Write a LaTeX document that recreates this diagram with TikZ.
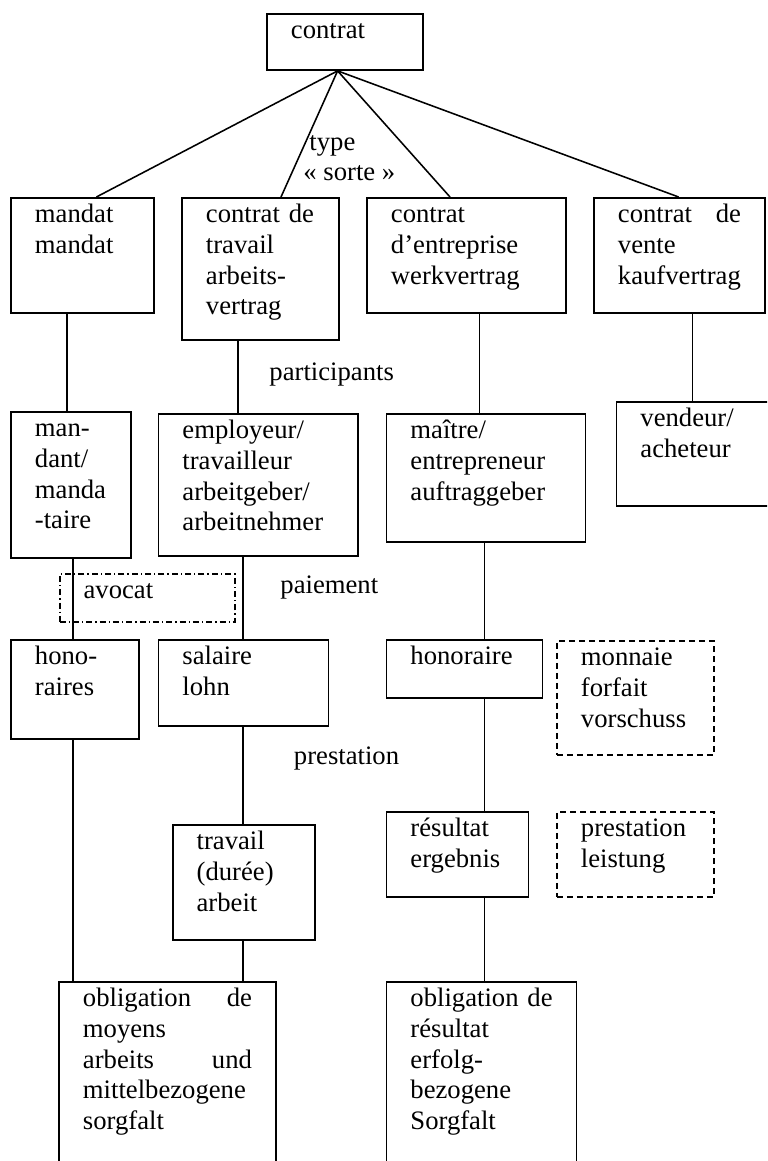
\documentclass[tikz,border=0pt]{standalone}
\usepackage{fontspec}
\setmainfont{Liberation Serif}

\tikzset{
	cbox/.style={draw, line width=0.85pt, anchor=north west, align=left,
		inner xsep=10.8pt, inner ysep=0pt, text height=11.25pt},
	dbox/.style={cbox, dash pattern=on 2.7pt off 1.8pt},
	dotbox/.style={cbox, dash pattern=on 2.7pt off 1.4pt on 0.5pt off 1.4pt},
	link/.style={line width=0.7pt},
	lbl/.style={anchor=base west, inner sep=0pt},
}

\begin{document}
\begin{tikzpicture}[x=0.45pt, y=-0.45pt, font=\fontsize{12}{13.8}\selectfont]
	\useasboundingbox (0,0) rectangle (767,1161);
	\clip (0,0) rectangle (767,1161);
	% root and contract types
	\node[cbox, text width=48.6pt, text depth=13.95pt] (ct) at (266,13) {contrat};
	\node[cbox, text width=42.75pt, text depth=40.5pt] (md) at (10,197) {mandat\\mandat};
	\node[cbox, text width=49.05pt, text depth=52.65pt] (tr) at (181,197) {contrat~de\\travail\\arbeits-\\vertrag};
	\node[cbox, text width=67.95pt, text depth=40.5pt] (en) at (366,197) {contrat\\d’entreprise\\werkvertrag};
	\node[cbox, text width=55.35pt, text depth=40.5pt] (ve) at (593,197) {contrat\hfill de\\vente\\kaufvertrag};
	% participants
	\node[cbox, text width=32.4pt, text depth=54.45pt] (mt) at (10,411) {man-\\dant/\\manda\\-taire};
	\node[cbox, text width=68.2pt, text depth=52.65pt] (em) at (157.5,413) {employeur/\\travailleur\\arbeitgeber/\\arbeitnehmer};
	\node[cbox, text width=67.95pt, text depth=46.35pt] (ma) at (385.5,413) {maître/\\entrepreneur\\auftraggeber};
	\node[cbox, text width=55.35pt, text depth=35.55pt] (vd) at (615.5,401) {vendeur/\\acheteur};
	\node[dotbox, text width=57.15pt, text depth=10.35pt] (av) at (58.7,573) {avocat};
	% payment
	\node[cbox, text width=36pt, text depth=33.3pt] (ho) at (10,639) {hono-\\raires};
	\node[cbox, text width=54.9pt, text depth=27.45pt] (sa) at (157.5,639) {salaire\\lohn};
	\node[cbox, text width=48.6pt, text depth=14.85pt] (hr) at (385.5,639) {honoraire};
	\node[dbox, text width=49.05pt, text depth=40.05pt] (mo) at (556,640) {monnaie\\forfait\\vorschuss};
	% performance
	\node[cbox, text width=42.3pt, text depth=40.5pt] (tv) at (171.7,824) {travail\\(durée)\\arbeit};
	\node[cbox, text width=42.3pt, text depth=27pt] (re) at (385.5,811) {résultat\\ergebnis};
	\node[dbox, text width=49.05pt, text depth=27pt] (pr) at (556,811) {prestation\\leistung};
	% obligations
	\node[cbox, text width=76.05pt, text depth=78.75pt] (om) at (58,981) {obligation\hfill de\\moyens\\arbeits\hfill und\\mittelbezogene\\sorgfalt};
	\node[cbox, text width=63.9pt, text depth=78.75pt] (or) at (385.5,981) {obligation~de\\résultat\\erfolg-\\bezogene\\Sorgfalt};
	% labels
	\node[lbl] (ty) at (309,151) {type};
	\node[lbl] (so) at (303,181) {«~sorte~»};
	\node[lbl] (pa) at (269,381) {participants};
	\node[lbl] (pm) at (280,593) {paiement};
	\node[lbl] (ps) at (293.5,764) {prestation};
	% links
	\foreach \n/\x in {md/96.4, tr/281, en/450, ve/678.6}
		\draw[link] (ct.south -| 337.6,0) -- (\n.north -| \x,0);
	\foreach \a/\b/\x in {md/mt/67, tr/em/238, en/ma/479.5, ve/vd/692.7,
		mt/ho/73, em/sa/243, ma/hr/484.3,
		ho/om/73, sa/tv/243, hr/re/484.3, tv/om/243, re/or/484.3}
		\draw[link] (\a.south -| \x,0) -- (\b.north -| \x,0);
\end{tikzpicture}
\end{document}
